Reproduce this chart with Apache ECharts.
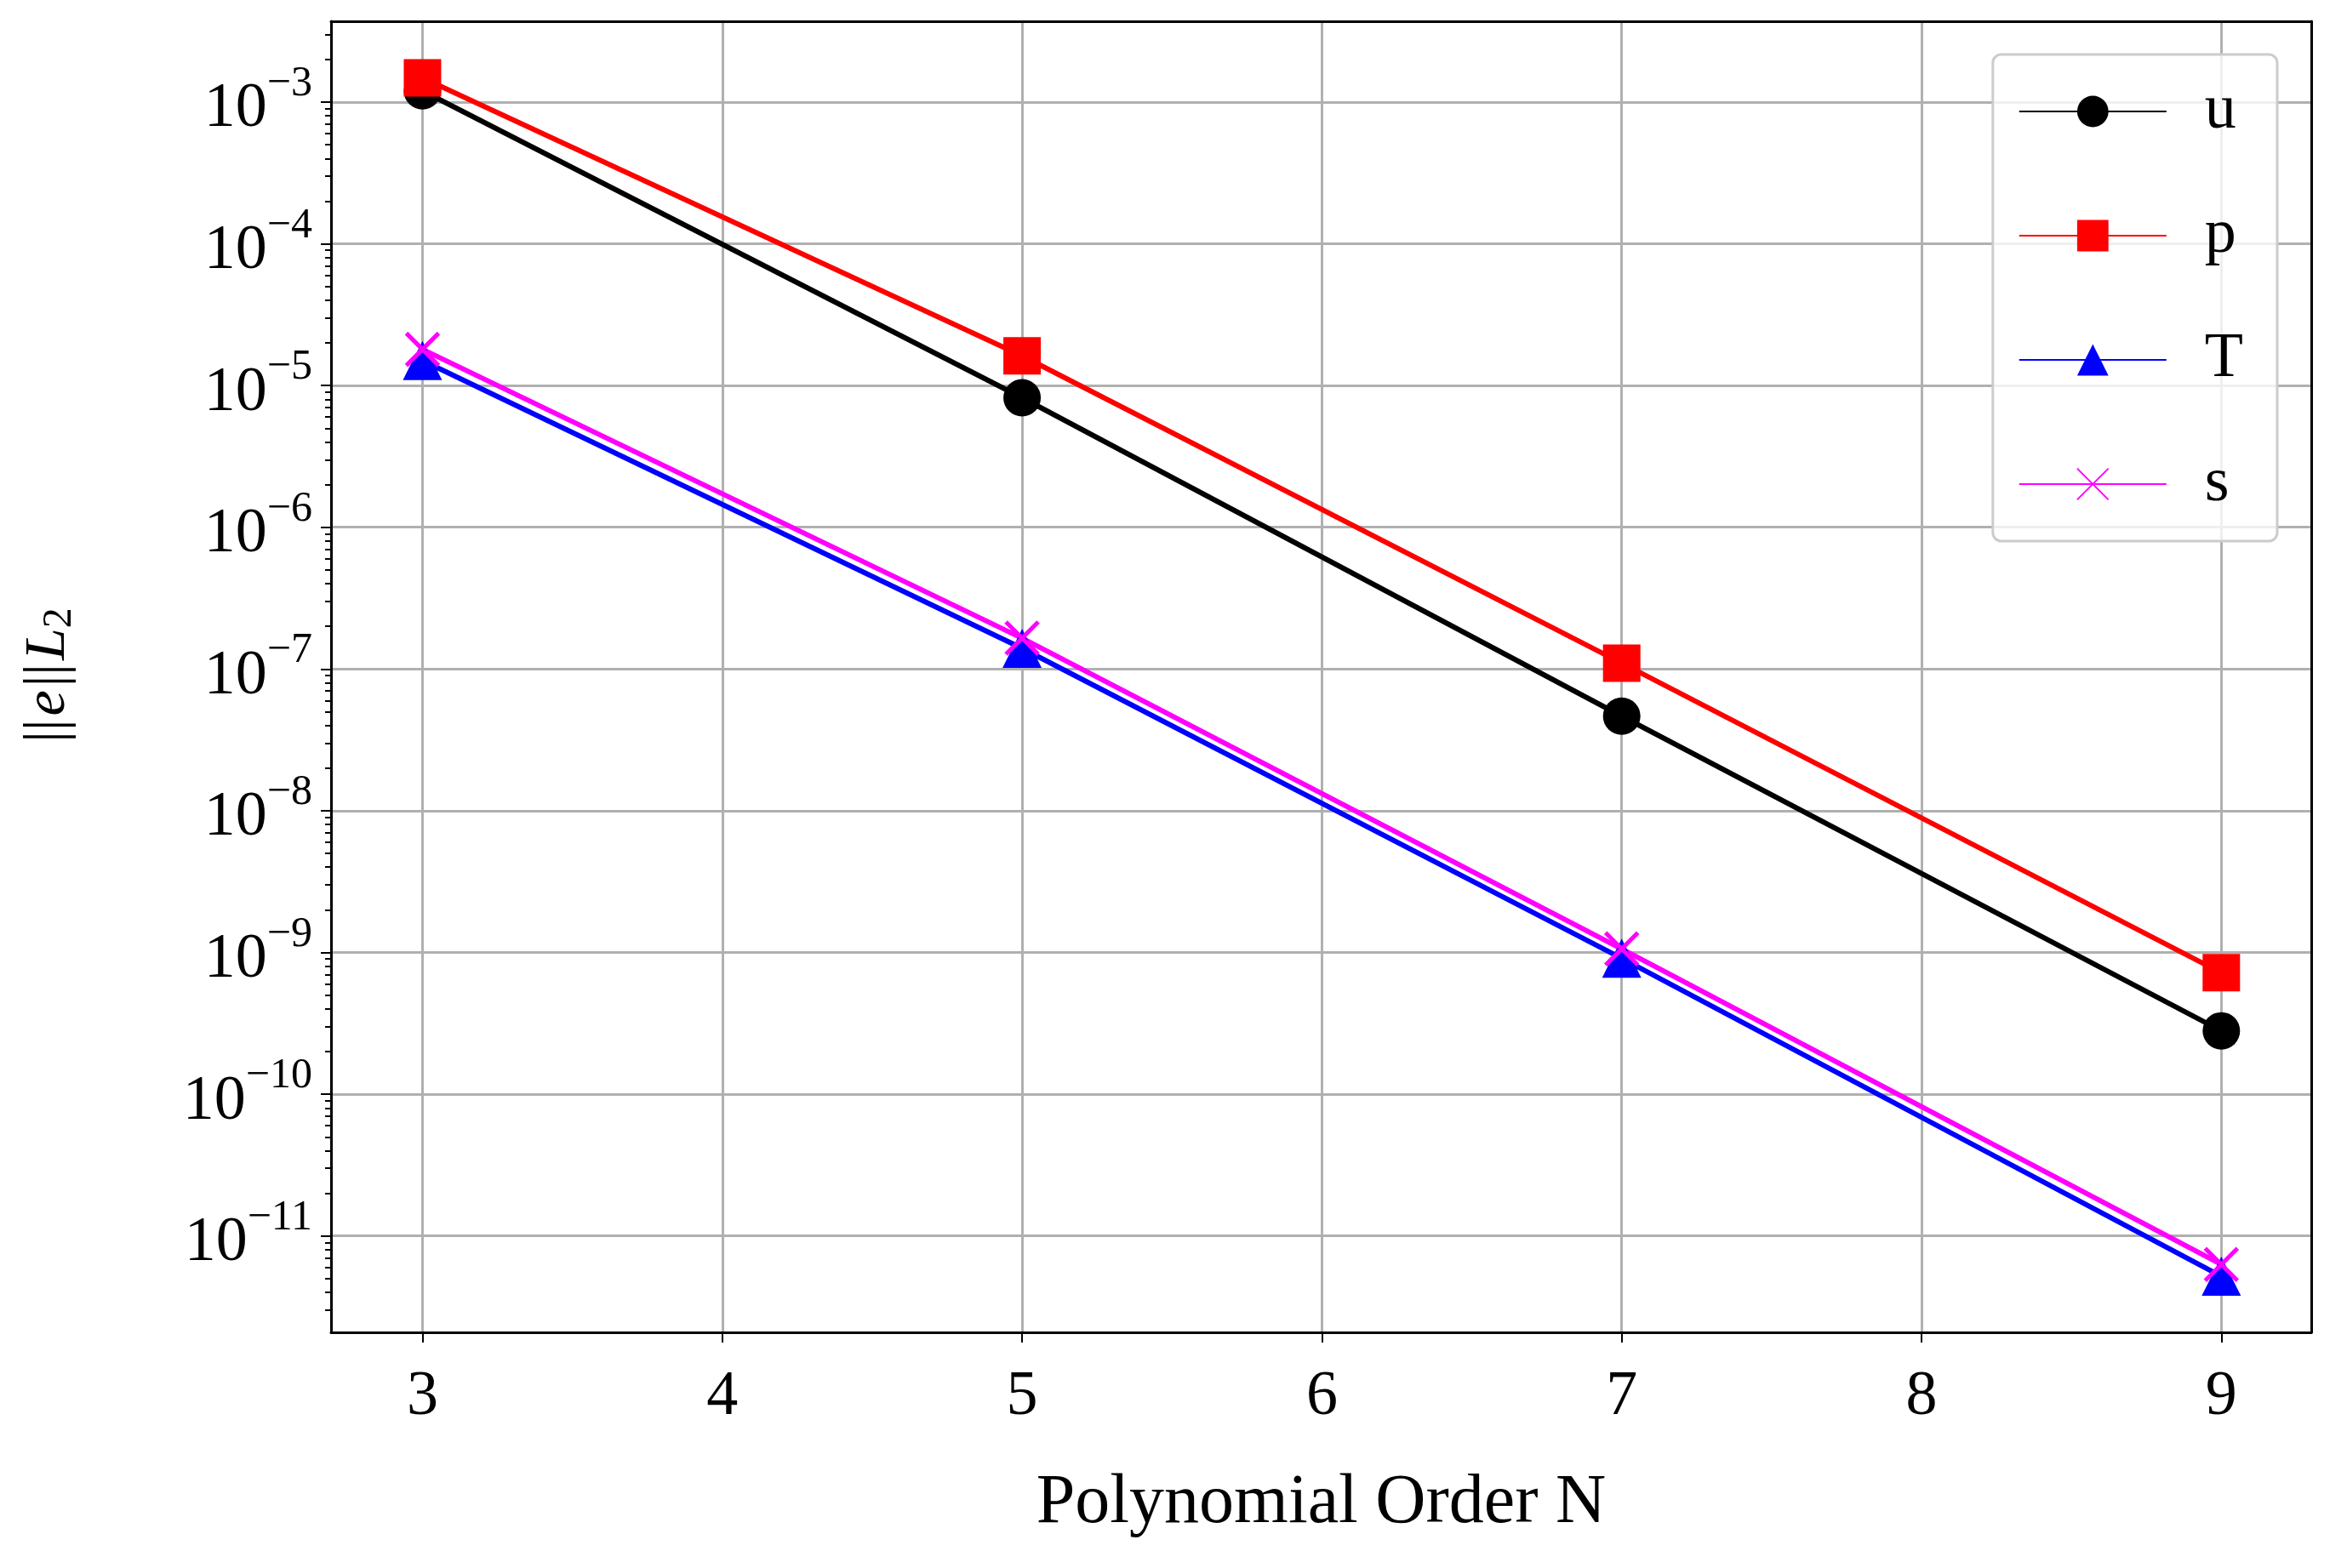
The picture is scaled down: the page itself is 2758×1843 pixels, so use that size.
<!DOCTYPE html>
<html><head><meta charset="utf-8">
<script src="https://cdn.jsdelivr.net/npm/echarts@6/dist/echarts.min.js"></script>
<style>html,body{margin:0;padding:0;background:#fff}#c{width:2758px;height:1843px}</style>
</head><body><div id="c"></div>
<script>
const orders = [3, 5, 7, 9];
const uErr = [1.2e-3, 8.2e-6, 4.65e-8, 2.8e-10];
const pErr = [1.48e-3, 1.62e-5, 1.1e-7, 7.2e-10];
const TErr = [1.5e-5, 1.4e-7, 9.1e-10, 5.2e-12];
const sErr = [1.8e-5, 1.65e-7, 1.06e-9, 6.3e-12];
const xTicks = [3, 4, 5, 6, 7, 8, 9];
const yExponents = [-11, -10, -9, -8, -7, -6, -5, -4, -3];

const F = 'Liberation Serif';
const toPts = arr => arr.map((v, i) => [orders[i], Math.log10(v)]);
const minor = [];
for (let e = -12; e <= -3; e++) for (let k = 2; k <= 9; k++) {
  const v = Math.log10(k) + e; if (v > -11.68 && v < -2.43) minor.push(v);
}
const sup = n => String(n).replace('-', '\u2212');
const chart = echarts.init(document.getElementById('c'));
const mk = (name, data, color, symbol, size, extra) => Object.assign({
  name, type: 'line', data: toPts(data), symbol, symbolSize: size,
  lineStyle: {color, width: 6}, itemStyle: {color}, z: 3
}, extra || {});
chart.setOption({
  animation: false,
  textStyle: {fontFamily: F},
  grid: {left: 389, right: 42, top: 25, bottom: 277, containLabel: false},
  xAxis: [{
    type: 'value', min: 2.695, max: 9.3,
    axisLabel: {customValues: xTicks, fontSize: 74, color: '#000', margin: 40, fontFamily: F},
    axisTick: {customValues: xTicks, length: 12, lineStyle: {color: '#000', width: 2}},
    axisLine: {onZero: false, lineStyle: {color: '#000', width: 3}},
    splitLine: {show: true, lineStyle: {color: '#b0b0b0', width: 3}},
    name: 'Polynomial Order N', nameLocation: 'middle', nameGap: 160,
    nameTextStyle: {fontSize: 82, color: '#000', fontFamily: F}
  }, {
    type: 'value', min: 2.695, max: 9.3, position: 'top',
    axisLabel: {show: false}, axisTick: {show: false}, splitLine: {show: false},
    axisLine: {show: true, onZero: false, lineStyle: {color: '#000', width: 3}}
  }],
  yAxis: [{
    type: 'value', min: -11.68, max: -2.43,
    axisLabel: {customValues: yExponents, color: '#000', margin: 22,
      formatter: v => '{b|10}{s|' + sup(Math.round(v)) + '}',
      rich: {b: {fontSize: 74, fontFamily: F, color: '#000', verticalAlign: 'bottom'},
             s: {fontSize: 50, fontFamily: F, color: '#000', verticalAlign: 'top', padding: [0, 0, 42, 0]}}},
    axisTick: {customValues: yExponents, length: 12, lineStyle: {color: '#000', width: 2}},
    axisLine: {show: true, onZero: false, lineStyle: {color: '#000', width: 3}},
    splitLine: {show: true, lineStyle: {color: '#b0b0b0', width: 3}},
    name: '{n|||}{i|e}{n|||}{i|L}{sb|2}', nameLocation: 'middle', nameGap: 295, nameRotate: 90,
    nameTextStyle: {rich: {
      n: {fontSize: 68, fontFamily: F, color: '#000', padding: [0, 4, 0, 4]},
      i: {fontSize: 68, fontFamily: F, fontStyle: 'italic', color: '#000'},
      sb: {fontSize: 48, fontFamily: F, color: '#000', padding: [26, 0, 0, 0]}}}
  }, {
    type: 'value', min: -11.68, max: -2.43, position: 'left',
    axisLabel: {show: false}, axisLine: {show: false}, splitLine: {show: false},
    axisTick: {show: true, customValues: minor, length: 7, lineStyle: {color: '#000', width: 2}}
  }, {
    type: 'value', min: -11.68, max: -2.43, position: 'right',
    axisLabel: {show: false}, axisTick: {show: false}, splitLine: {show: false},
    axisLine: {show: true, onZero: false, lineStyle: {color: '#000', width: 3}}
  }],
  legend: {
    right: 82, top: 64, orient: 'vertical', itemWidth: 173, itemHeight: 46, itemGap: 72,
    padding: [30, 40, 30, 30], borderColor: '#cccccc', borderWidth: 3, borderRadius: 10,
    backgroundColor: 'rgba(255,255,255,0.8)',
    textStyle: {fontSize: 74, fontFamily: F, color: '#000', padding: [0, 0, 0, 40], lineHeight: 46},
    data: ['u', 'p', 'T', 's']
  },
  series: [
    mk('u', uErr, '#000000', 'circle', 44),
    mk('p', pErr, '#ff0000', 'rect', 44),
    mk('T', TErr, '#0000ff', 'triangle', 46),
    mk('s', sErr, '#ff00ff', 'path://M0,0L10,10M10,0L0,10', 38,
      {itemStyle: {color: '#ff00ff', borderColor: '#ff00ff', borderWidth: 5}})
  ]
});
</script></body></html>
